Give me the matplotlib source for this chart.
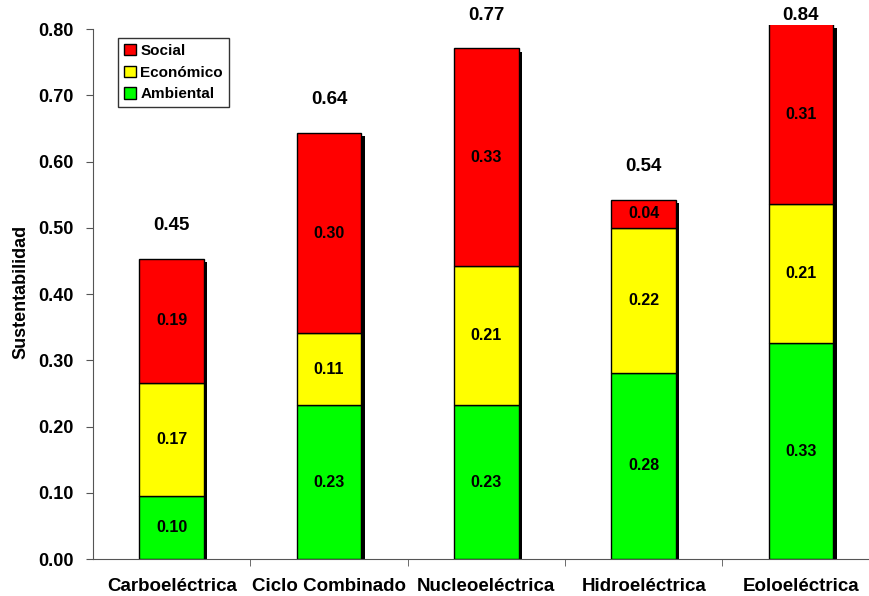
import matplotlib.pyplot as plt
import numpy as np

plt.rcParams['font.family'] = ['Liberation Sans', 'DejaVu Sans']
plt.rcParams['font.weight'] = 'bold'

categorias = ["Carboeléctrica", "Ciclo Combinado", "Nucleoeléctrica", "Hidroeléctrica", "Eoloeléctrica"]
ambiental = [0.095, 0.232, 0.232, 0.281, 0.326]
economico = [0.171, 0.109, 0.210, 0.219, 0.210]
social = [0.187, 0.302, 0.329, 0.042, 0.306]
totales = ["0.45", "0.64", "0.77", "0.54", "0.84"]

ambiental = np.array(ambiental)
economico = np.array(economico)
social = np.array(social)
total = ambiental + economico + social

fig = plt.figure(figsize=(8.7, 5.96), dpi=100)
ax = fig.add_axes([0.107, 0.062, 1.011 - 0.107, 0.958 - 0.062])

x = np.arange(len(categorias))
w = 0.41
ymax = 0.806

# sombra
ax.bar(x + 0.022, np.minimum(total, ymax) - 0.005, w, color="black", zorder=1)

b1 = ax.bar(x, ambiental, w, color="#00FF00", edgecolor="black", lw=1, zorder=2, label="Ambiental")
b2 = ax.bar(x, economico, w, bottom=ambiental, color="#FFFF00", edgecolor="black", lw=1, zorder=2, label="Económico")
b3 = ax.bar(x, social, w, bottom=ambiental + economico, color="#FF0000", edgecolor="black", lw=1, zorder=2, label="Social")

for i in range(len(x)):
    ax.text(x[i], ambiental[i] / 2, f"{ambiental[i]:.2f}", ha="center", va="center", fontsize=11.5, fontweight="bold", zorder=3)
    ax.text(x[i], ambiental[i] + economico[i] / 2, f"{economico[i]:.2f}", ha="center", va="center", fontsize=11.5, fontweight="bold", zorder=3)
    top = min(total[i], ymax)
    ax.text(x[i], ambiental[i] + economico[i] + (top - ambiental[i] - economico[i]) / 2, f"{social[i]:.2f}",
            ha="center", va="center", fontsize=11.5, fontweight="bold", zorder=3)
    ax.text(x[i], min(total[i] + 0.05, 0.82), totales[i], ha="center", va="center", fontsize=13.5, fontweight="bold",
            clip_on=False)

ax.set_xlim(-0.5, len(x) - 0.5)
ax.set_ylim(0, ymax)
ax.set_yticks(np.arange(0, 0.81, 0.1))
ax.set_yticklabels([f"{v:.2f}" for v in np.arange(0, 0.81, 0.1)], fontsize=13, fontweight="bold")
ax.set_xticks(x)
ax.set_xticklabels(categorias, fontsize=13.5, fontweight="bold")
ax.set_xticks(np.arange(0.5, len(x) - 0.5, 1), minor=True)
ax.tick_params(axis="x", which="major", length=0, pad=14)
ax.tick_params(axis="x", which="minor", length=5, color="#555555", direction="out")
ax.tick_params(axis="y", length=5, color="#555555", direction="out", pad=9)
ax.set_ylabel("Sustentabilidad", fontsize=13, fontweight="bold", labelpad=6)

for s in ["top", "right"]:
    ax.spines[s].set_visible(False)
ax.spines["left"].set_color("#555555")
ax.spines["bottom"].set_color("#555555")
ax.spines["left"].set_bounds(0, 0.80)

leg = ax.legend(handles=[b3, b2, b1], loc="upper left", bbox_to_anchor=(0.032, 0.976), fontsize=11,
                frameon=True, fancybox=False, edgecolor="black", handlelength=0.75, handleheight=0.75,
                handletextpad=0.3, borderpad=0.4, labelspacing=0.5, borderaxespad=0)
leg.get_frame().set_linewidth(1)

plt.savefig("out.png", dpi=100)
